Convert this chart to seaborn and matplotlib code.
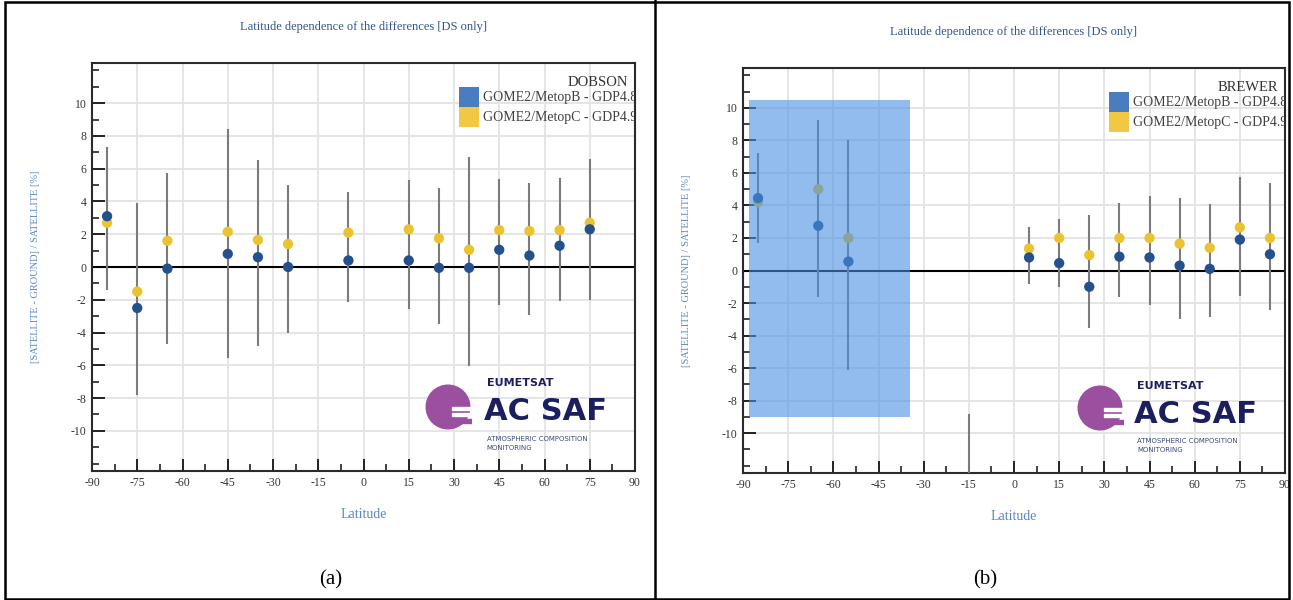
import numpy as np
import pandas as pd
import matplotlib
matplotlib.use("Agg")
import matplotlib.pyplot as plt
import seaborn as sns
from matplotlib.patches import Rectangle, Circle
from matplotlib.lines import Line2D
from matplotlib.ticker import MultipleLocator

# ---------------- data ----------------
series_names = ["GOME2/MetopB - GDP4.8", "GOME2/MetopC - GDP4.9"]
station_names = ["DOBSON", "BREWER"]
title_text = "Latitude dependence of the differences [DS only]"
ylabel_text = "[SATELLITE - GROUND] / SATELLITE [%]"
xlabel_text = "Latitude"
captions = ["(a)", "(b)"]

x_ticks = [-90, -75, -60, -45, -30, -15, 0, 15, 30, 45, 60, 75, 90]
y_ticks = [-10, -8, -6, -4, -2, 0, 2, 4, 6, 8, 10]

# DOBSON panel
dob_lat = [-85, -75, -65, -45, -35, -25, -5, 15, 25, 35, 45, 55, 65, 75]
dob_metopb = [3.1, -2.5, -0.1, 0.8, 0.6, 0.0, 0.4, 0.4, -0.05, -0.05, 1.05, 0.7, 1.3, 2.3]
dob_metopc = [2.7, -1.5, 1.6, 2.15, 1.65, 1.4, 2.1, 2.3, 1.75, 1.05, 2.25, 2.2, 2.25, 2.7]
dob_bar_low = [-1.4, -7.8, -4.7, -5.55, -4.85, -4.05, -2.15, -2.55, -3.45, -6.05, -2.3, -2.9, -2.1, -2.0]
dob_bar_high = [7.35, 3.9, 5.75, 8.45, 6.5, 5.0, 4.6, 5.3, 4.8, 6.7, 5.35, 5.15, 5.45, 6.6]

# BREWER panel
bre_lat = [-85, -65, -55, -15, 5, 15, 25, 35, 45, 55, 65, 75, 85]
bre_metopb = [4.45, 2.75, 0.55, np.nan, 0.8, 0.45, -1.0, 0.85, 0.8, 0.3, 0.1, 1.9, 1.0]
bre_metopc = [4.2, 5.0, 2.0, np.nan, 1.35, 2.0, 0.95, 2.0, 2.0, 1.65, 1.4, 2.65, 2.0]
bre_bar_low = [1.7, -1.65, -6.1, -14.0, -0.8, -1.0, -3.55, -1.6, -2.1, -3.0, -2.85, -1.55, -2.45]
bre_bar_high = [7.25, 9.25, 8.0, -8.85, 2.7, 3.15, 3.4, 4.15, 4.55, 4.45, 4.1, 5.75, 5.4]
bre_shade_lat = [-88.0, -34.5]
bre_shade_low = -9.0
bre_shade_high = 10.5

# ---------------- style ----------------
sns.set_theme(style="white")
plt.rcParams["font.family"] = ["Liberation Serif", "DejaVu Serif"]
plt.rcParams["axes.unicode_minus"] = False

W, H = 1293, 600
fig = plt.figure(figsize=(W / 100, H / 100), dpi=100)
fig.patch.set_facecolor("white")

dot_colors = {series_names[0]: "#24508e", series_names[1]: "#ebc22f"}
patch_colors = ["#4a7cc0", "#f2c744"]
title_color = "#34568c"
label_color = "#5a86c2"
navy = "#1b1f5e"
purple = "#9a4f9f"

def px_rect(x0, y0, x1, y1):
    return [x0 / W, 1 - y1 / H, (x1 - x0) / W, (y1 - y0) / H]

def draw_panel(ax, lat, b, c, lo, hi, station, shade=None):
    n = len(lat)
    df = pd.DataFrame({
        "Latitude": list(lat) + list(lat),
        "diff": list(c) + list(b),
        "series": [series_names[1]] * n + [series_names[0]] * n,
    })
    ax.set_xlim(-90, 90)
    ax.set_ylim(-12.45, 12.45)
    ax.set_xticks(x_ticks)
    ax.set_xticklabels([str(t) for t in x_ticks])
    ax.set_yticks(y_ticks)
    ax.set_yticklabels([str(t) for t in y_ticks])
    ax.xaxis.set_minor_locator(MultipleLocator(7.5))
    ax.yaxis.set_minor_locator(MultipleLocator(1))
    ax.grid(True, which="major", color="#e3e3e3", lw=1.3)
    ax.set_axisbelow(True)
    ax.tick_params(which="major", direction="in", length=9, width=1.4, color="#222222",
                   labelsize=8.5, labelcolor="#333333", bottom=True, left=True, top=False, right=False, pad=4)
    ax.tick_params(which="minor", direction="in", length=5, width=1.2, color="#222222",
                   bottom=True, left=True, top=False, right=False)
    for s in ax.spines.values():
        s.set_color("#2a2a2a")
        s.set_linewidth(1.5)
    ax.axhline(0, color="black", lw=1.5, zorder=2)
    ax.vlines(lat, lo, hi, color="#7b7b7b", lw=1.5, zorder=3)
    sns.scatterplot(data=df, x="Latitude", y="diff", hue="series",
                    palette=dot_colors, s=55, linewidth=0, legend=False, ax=ax, zorder=4)
    if shade is not None:
        xs, ylo, yhi = shade
        ax.fill_between(xs, ylo, yhi, color="#4a90e2", alpha=0.6, lw=0, zorder=5)
    ax.set_title(title_text, fontsize=9, color=title_color, pad=24)
    ax.set_xlabel(xlabel_text, fontsize=10, color=label_color, labelpad=14)
    ax.set_ylabel(ylabel_text, fontsize=7.5, color=label_color, labelpad=22)

    # legend box (drawn in axes fraction, clipped by axes like the reference)
    ax.text(0.988, 0.952, station, transform=ax.transAxes, ha="right", va="center",
            fontsize=10.5, color="#333333", clip_on=True, zorder=7)
    for i, (name, pc) in enumerate(zip(series_names, patch_colors)):
        y0 = 0.892 - i * 0.05
        ax.add_patch(Rectangle((0.676, y0), 0.037, 0.049, transform=ax.transAxes,
                               facecolor=pc, edgecolor="none", zorder=7, clip_on=False))
        ax.text(0.72, y0 + 0.024, name, transform=ax.transAxes, ha="left", va="center",
                fontsize=10, color="#404040", clip_on=True, zorder=7)

    # AC SAF logo text
    ax.text(0.727, 0.216, "EUMETSAT", transform=ax.transAxes, ha="left", va="center",
            fontsize=8, fontweight="bold", color=navy, family="DejaVu Sans", zorder=7)
    ax.text(0.722, 0.145, "AC SAF", transform=ax.transAxes, ha="left", va="center",
            fontsize=22, fontweight="heavy", color=navy, family="DejaVu Sans", zorder=7)
    ax.text(0.727, 0.078, "ATMOSPHERIC COMPOSITION", transform=ax.transAxes, ha="left", va="center",
            fontsize=5, color="#3a4a7a", family="DejaVu Sans", zorder=7)
    ax.text(0.727, 0.056, "MONITORING", transform=ax.transAxes, ha="left", va="center",
            fontsize=5, color="#3a4a7a", family="DejaVu Sans", zorder=7)

def draw_logo_mark(cx, cy, r=22):
    lax = fig.add_axes(px_rect(cx - r - 2, cy - r - 2, cx + r + 2, cy + r + 2))
    lax.set_xlim(-1.1, 1.1)
    lax.set_ylim(-1.1, 1.1)
    lax.axis("off")
    lax.add_patch(Circle((0, 0), 1.0, color=purple))
    for yy in [-0.12, -0.42]:
        lax.add_patch(Rectangle((0.2, yy), 1.0, 0.14, color="white"))
    lax.add_patch(Rectangle((0.55, -0.72), 0.6, 0.16, color=purple))

ax1 = fig.add_axes(px_rect(92, 63, 635, 471))
ax2 = fig.add_axes(px_rect(743, 68, 1285, 473))

draw_panel(ax1, dob_lat, dob_metopb, dob_metopc, dob_bar_low, dob_bar_high, station_names[0])
draw_panel(ax2, bre_lat, bre_metopb, bre_metopc, bre_bar_low, bre_bar_high, station_names[1],
           shade=(bre_shade_lat, bre_shade_low, bre_shade_high))

draw_logo_mark(448, 407)
draw_logo_mark(1100, 408)

# captions
fig.text(331 / W, 1 - 580 / H, captions[0], ha="center", va="center", fontsize=15, color="black")
fig.text(985 / W, 1 - 580 / H, captions[1], ha="center", va="center", fontsize=15, color="black")

# outer table borders
fig.add_artist(Rectangle((5 / W, 1.5 / H), (W - 9) / W, (H - 3) / H, transform=fig.transFigure,
                         fill=False, edgecolor="black", lw=1.8))
fig.add_artist(Line2D([655 / W, 655 / W], [0, 1], transform=fig.transFigure, color="black", lw=1.8))

fig.savefig("out.png", dpi=100)
